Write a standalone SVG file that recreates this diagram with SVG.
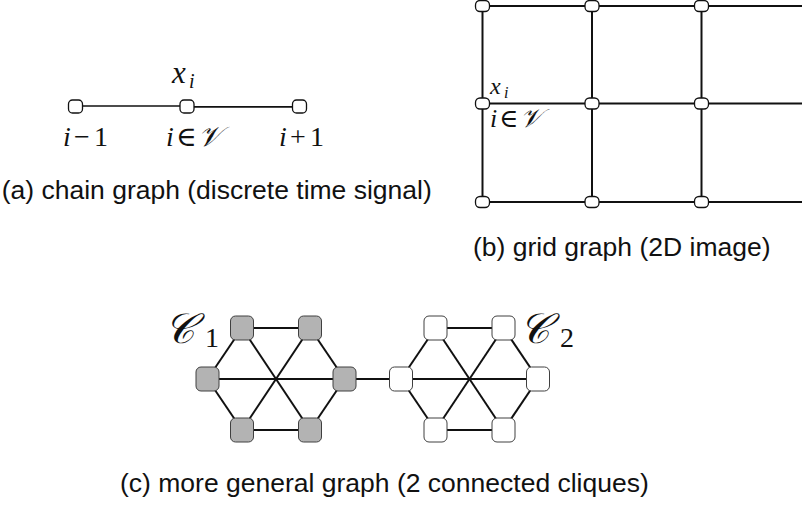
<svg xmlns="http://www.w3.org/2000/svg" width="802" height="517" viewBox="0 0 802 517">
<style>
.cap{font-family:"Liberation Sans",Arial,sans-serif;font-size:26.5px;fill:#111}
.m{font-family:"Liberation Serif","DejaVu Serif",serif;fill:#111}
.it{font-style:italic}
.cal{font-family:"DejaVu Serif","Liberation Serif",serif;font-style:italic}
.e1{stroke:#111;stroke-width:1.7;fill:none}
.e2{stroke:#111;stroke-width:2;fill:none}
.sn{fill:#fff;stroke:#111;stroke-width:1.3}
.cg{fill:#b3b3b3;stroke:#404040;stroke-width:1}
.cw{fill:#fff;stroke:#404040;stroke-width:1}
</style>
<rect width="802" height="517" fill="#fff"/>

<!-- (a) chain graph -->
<g id="chain-edges">
<line class="e1" x1="75.5" y1="106" x2="187" y2="106"/>
<line class="e1" x1="187" y1="106.8" x2="299.5" y2="106.8"/>
</g>
<g id="chain-node-1"><rect class="sn" x="68.5" y="100" width="14" height="13" rx="4"/></g>
<g id="chain-node-2"><rect class="sn" x="180" y="100" width="14" height="13" rx="4"/></g>
<g id="chain-node-3"><rect class="sn" x="292.5" y="100" width="14" height="13" rx="4"/></g>
<g id="chain-labels" class="m">
<text x="172" y="83" font-size="31" class="it">x</text>
<text x="189" y="88" font-size="20" class="it">i</text>
<text y="146" font-size="28"><tspan x="63" class="it">i</tspan><tspan x="74">−</tspan><tspan x="94">1</tspan></text>
<text y="146" font-size="28"><tspan x="166" class="it">i</tspan><tspan x="176">∈</tspan><tspan x="198" class="cal">𝒱</tspan></text>
<text y="146" font-size="28"><tspan x="279" class="it">i</tspan><tspan x="290">+</tspan><tspan x="310">1</tspan></text>
</g>
<text class="cap" x="1.7" y="199">(a) chain graph (discrete time signal)</text>

<!-- (b) grid graph -->
<g id="grid-edges">
<line class="e2" x1="482.5" y1="6" x2="802" y2="6"/>
<line class="e2" x1="482.5" y1="103.5" x2="802" y2="103.5"/>
<line class="e2" x1="482.5" y1="202" x2="802" y2="202"/>
<line class="e2" x1="482.5" y1="6" x2="482.5" y2="202"/>
<line class="e2" x1="592" y1="6" x2="592" y2="202"/>
<line class="e2" x1="701.5" y1="6" x2="701.5" y2="202"/>
</g>
<g id="grid-nodes">
<rect class="sn" x="475.5" y="0.5" width="14" height="11" rx="4.5"/>
<rect class="sn" x="585" y="0.5" width="14" height="11" rx="4.5"/>
<rect class="sn" x="694.5" y="0.5" width="14" height="11" rx="4.5"/>
<rect class="sn" x="475.5" y="98" width="14" height="11" rx="4.5"/>
<rect class="sn" x="585" y="98" width="14" height="11" rx="4.5"/>
<rect class="sn" x="694.5" y="98" width="14" height="11" rx="4.5"/>
<rect class="sn" x="475.5" y="196.5" width="14" height="11" rx="4.5"/>
<rect class="sn" x="585" y="196.5" width="14" height="11" rx="4.5"/>
<rect class="sn" x="694.5" y="196.5" width="14" height="11" rx="4.5"/>
</g>
<g id="grid-labels" class="m">
<text x="490" y="94" font-size="24" class="it">x</text>
<text x="504" y="97.5" font-size="16" class="it">i</text>
<text y="127" font-size="26"><tspan x="490" class="it">i</tspan><tspan x="499">∈</tspan><tspan x="520" class="cal">𝒱</tspan></text>
</g>
<text class="cap" x="473" y="256">(b) grid graph (2D image)</text>

<!-- (c) two cliques -->
<g id="clique-edges">
<line class="e2" x1="242" y1="328" x2="310" y2="328"/>
<line class="e2" x1="310" y1="328" x2="344.5" y2="379"/>
<line class="e2" x1="344.5" y1="379" x2="310" y2="430"/>
<line class="e2" x1="310" y1="430" x2="242" y2="430"/>
<line class="e2" x1="242" y1="430" x2="207.5" y2="379"/>
<line class="e2" x1="207.5" y1="379" x2="242" y2="328"/>
<line class="e2" x1="242" y1="328" x2="310" y2="430"/>
<line class="e2" x1="310" y1="328" x2="242" y2="430"/>
<line class="e2" x1="207.5" y1="379" x2="344.5" y2="379"/>
<line class="e2" x1="344.5" y1="379" x2="401" y2="379"/>
<line class="e2" x1="435.5" y1="328" x2="503.5" y2="328"/>
<line class="e2" x1="503.5" y1="328" x2="538" y2="379"/>
<line class="e2" x1="538" y1="379" x2="503.5" y2="430"/>
<line class="e2" x1="503.5" y1="430" x2="435.5" y2="430"/>
<line class="e2" x1="435.5" y1="430" x2="401" y2="379"/>
<line class="e2" x1="401" y1="379" x2="435.5" y2="328"/>
<line class="e2" x1="435.5" y1="328" x2="503.5" y2="430"/>
<line class="e2" x1="503.5" y1="328" x2="435.5" y2="430"/>
<line class="e2" x1="401" y1="379" x2="538" y2="379"/>
</g>
<g id="c1-tl"><rect class="cg" x="230.5" y="316" width="23" height="24" rx="5"/></g>
<g id="c1-tr"><rect class="cg" x="298.5" y="316" width="23" height="24" rx="5"/></g>
<g id="c1-l"><rect class="cg" x="196" y="367" width="23" height="24" rx="5"/></g>
<g id="c1-r"><rect class="cg" x="333" y="367" width="23" height="24" rx="5"/></g>
<g id="c1-bl"><rect class="cg" x="230.5" y="418" width="23" height="24" rx="5"/></g>
<g id="c1-br"><rect class="cg" x="298.5" y="418" width="23" height="24" rx="5"/></g>
<g id="c2-tl"><rect class="cw" x="424" y="316" width="23" height="24" rx="5"/></g>
<g id="c2-tr"><rect class="cw" x="492" y="316" width="23" height="24" rx="5"/></g>
<g id="c2-l"><rect class="cw" x="389.5" y="367" width="23" height="24" rx="5"/></g>
<g id="c2-r"><rect class="cw" x="526.5" y="367" width="23" height="24" rx="5"/></g>
<g id="c2-bl"><rect class="cw" x="424" y="418" width="23" height="24" rx="5"/></g>
<g id="c2-br"><rect class="cw" x="492" y="418" width="23" height="24" rx="5"/></g>
<g id="clique-labels" class="m">
<text x="164" y="343" font-size="42" class="cal">𝒞</text>
<text x="205" y="347" font-size="28">1</text>
<text x="519" y="343" font-size="42" class="cal">𝒞</text>
<text x="560" y="347" font-size="28">2</text>
</g>
<text class="cap" x="120" y="492">(c) more general graph (2 connected cliques)</text>
</svg>
